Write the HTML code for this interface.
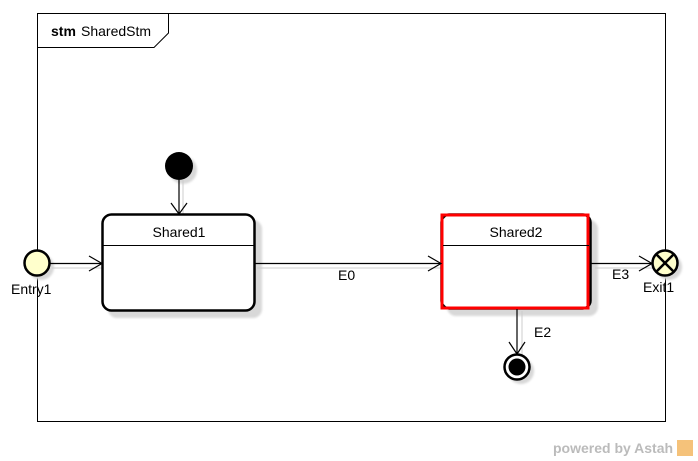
<!DOCTYPE html>
<html><head><meta charset="utf-8"><style>
html,body{margin:0;padding:0;background:#fff;width:698px;height:461px;overflow:hidden}
text{font-family:"Liberation Sans","DejaVu Sans",sans-serif;font-size:14px;fill:#000}
</style></head><body>
<svg width="698" height="461" viewBox="0 0 698 461" xmlns="http://www.w3.org/2000/svg">
<defs><filter id="b"><feGaussianBlur stdDeviation="1"/></filter></defs>
<rect x="37.5" y="13.5" width="628" height="408" fill="none" stroke="#000" stroke-width="1"/>
<path d="M37.5 47.5 H154 L168.5 33 V13.5" fill="none" stroke="#000"/>
<text x="51" y="36" font-weight="bold">stm</text><text x="81" y="36">SharedStm</text>
<rect x="108" y="220" width="154" height="98" rx="9" fill="#d8d8d8" filter="url(#b)"/>
<rect x="447" y="220" width="151" height="96" rx="9" fill="#d8d8d8" filter="url(#b)"/>
<circle cx="183" cy="170" r="14" fill="#d8d8d8" filter="url(#b)"/>
<circle cx="41" cy="267" r="13" fill="#d8d8d8" filter="url(#b)"/>
<circle cx="669" cy="267" r="13" fill="#d8d8d8" filter="url(#b)"/>
<circle cx="521" cy="371" r="13" fill="#d8d8d8" filter="url(#b)"/>
<g stroke="#ccc" fill="none">
<path d="M52 268 H105"/><path d="M257 268 H444"/><path d="M595 268 H655"/><path d="M183 180 V214"/><path d="M522 311 V355"/>
</g>
<rect x="102.5" y="214.5" width="152" height="96" rx="9" fill="#fff" stroke="#000" stroke-width="2.5"/>
<line x1="103" y1="245.5" x2="254" y2="245.5" stroke="#000"/>
<text x="179" y="237" text-anchor="middle">Shared1</text>
<rect x="441.5" y="214.5" width="149" height="94" rx="8" fill="#fff" stroke="#000" stroke-width="2.5"/>
<rect x="442" y="215" width="146" height="93" fill="none" stroke="#f00" stroke-width="3"/>
<line x1="443" y1="245.5" x2="589" y2="245.5" stroke="#000"/>
<text x="516" y="237" text-anchor="middle">Shared2</text>
<circle cx="179" cy="166" r="14" fill="#000"/>
<g stroke="#000" fill="none" stroke-width="1.2">
<path d="M179 180 V214"/><path d="M171 203 L179 214 L187 203"/>
<path d="M50 263.5 H102"/><path d="M89 256 L102 263.5 L89 271"/>
<path d="M255 263.5 H441"/><path d="M428 256 L441 263.5 L428 271"/>
<path d="M591 263.5 H652"/><path d="M639 256 L652 263.5 L639 271"/>
<path d="M517 309 V354"/><path d="M509 342 L517 354 L525 342"/>
</g>
<circle cx="37" cy="263" r="12.5" fill="#ffffcc" stroke="#000" stroke-width="2.5"/>
<text x="11" y="294">Entry1</text>
<circle cx="665" cy="263" r="12.5" fill="#ffffcc" stroke="#000" stroke-width="2.5"/>
<path d="M656 254 L674 272 M674 254 L656 272" stroke="#000" stroke-width="2.5"/>
<text x="643" y="292">Exit1</text>
<circle cx="517" cy="367" r="12.5" fill="#fff" stroke="#000" stroke-width="2.5"/>
<circle cx="517" cy="367" r="8.5" fill="#000"/>
<text x="338" y="280">E0</text>
<text x="612" y="279">E3</text>
<text x="534" y="337">E2</text>
<text x="553" y="453" style="font-size:14px;font-weight:bold;fill:#bbb">powered by Astah</text>
<rect x="677" y="440" width="16" height="16" fill="#f5c27a"/>
</svg>
</body></html>
